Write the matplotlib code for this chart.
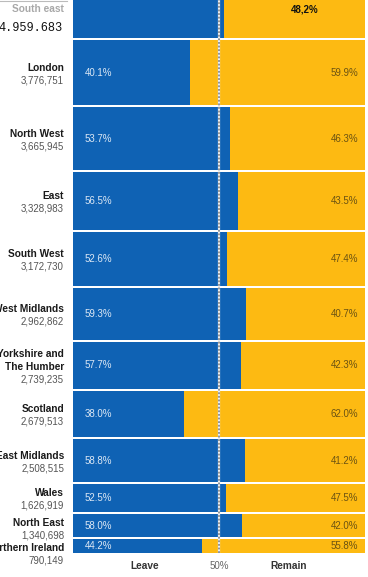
import numpy as np
import matplotlib
matplotlib.use("Agg")
import matplotlib.pyplot as plt

regions = ["South east", "London", "North West", "East", "South West", "West Midlands",
           "Yorkshire and\nThe Humber", "Scotland", "East Midlands", "Wales",
           "North East", "Northern Ireland"]
electorate = [4959683, 3776751, 3665945, 3328983, 3172730, 2962862,
              2739235, 2679513, 2508515, 1626919, 1340698, 790149]
leave = [51.8, 40.1, 53.7, 56.5, 52.6, 59.3, 57.7, 38.0, 58.8, 52.5, 58.0, 44.2]
remain = [48.2, 59.9, 46.3, 43.5, 47.4, 40.7, 42.3, 62.0, 41.2, 47.5, 42.0, 55.8]

BLUE = "#0f62b4"
YELLOW = "#fdba12"
plt.rcParams['font.family'] = ['Liberation Sans', 'DejaVu Sans']

W, H = 368, 577
fig = plt.figure(figsize=(W / 100, H / 100), dpi=100)
# axes: x from 73px to 365px, y from 0px to 553px
ax = fig.add_axes([73 / W, 24 / H, 292 / W, 553 / H])

s = 17.24            # pixels per million voters
gap = 2 / s
heights = np.array(electorate) / 1e6
tops = np.concatenate([[0], np.cumsum(heights + gap)[:-1]])
centers = tops + heights / 2

ax.barh(centers, leave, height=heights, color=BLUE, linewidth=0)
ax.barh(centers, remain, left=leave, height=heights, color=YELLOW, linewidth=0)
ax.axvline(50, color="#e8eef5", lw=1.6, zorder=4)
ax.axvline(50, color="#8c8c8c", lw=1.3, ls=(0, (1, 1)), zorder=5)

ax.set_xlim(0, 100)
ax.set_ylim(tops[-1] + heights[-1], heights[0] - 38 / s)
ax.axis("off")

xlab = -9 / 292 * 100   # 9 px left of the bars
for i in range(1, len(regions)):
    yc = centers[i]
    lines = regions[i].split("\n") + [f"{electorate[i]:,}"]
    n = len(lines)
    yblock = max(yc + 1.5 / s, tops[i] + 15 / s)
    for k, txt in enumerate(lines):
        y = yblock + (k - (n - 1) / 2) * 12.5 / s
        last = k == n - 1
        ax.text(xlab, y, txt, ha="right", va="center", clip_on=False,
                fontsize=7.0 if last else 7.3,
                fontweight="normal" if last else "bold",
                color="#555555" if last else "#1a1a1a")
    ax.annotate(f"{leave[i]:.1f}%", xy=(0, yc), xytext=(12, 0), textcoords="offset pixels",
                ha="left", va="center", fontsize=7, color="#dbe7f4")
    ax.annotate(f"{remain[i]:.1f}%", xy=(100, yc), xytext=(-7, 0), textcoords="offset pixels",
                ha="right", va="center", fontsize=7, color="#6b5312")

# partially visible South east row
fig.add_artist(plt.Line2D([0, 67 / W], [1 - 0.5 / H, 1 - 0.5 / H], color="#bbbbbb", lw=0.8))
fig.text(64 / W, 1 - 9 / H, regions[0], ha="right", va="center", fontsize=7.3,
         fontweight="bold", color="#a8a8a8")
fig.text(63 / W, 1 - 28 / H, f"{electorate[0]:,}".replace(",", "."), ha="right",
         va="center", fontsize=8.6, color="#111111",
         family=["Liberation Mono", "DejaVu Sans Mono"])
fig.text(305 / W, 1 - 10 / H, f"{remain[0]:.1f}%".replace(".", ","), ha="center",
         va="center", fontsize=7, fontweight="bold", color="#111111")

# bottom labels
fig.text(145 / W, 1 - 566 / H, "Leave", ha="center", va="center", fontsize=7.3,
         fontweight="bold", color="#333333")
fig.text(219 / W, 1 - 566 / H, "50%", ha="center", va="center", fontsize=7,
         color="#666666")
fig.text(289 / W, 1 - 566 / H, "Remain", ha="center", va="center", fontsize=7.3,
         fontweight="bold", color="#333333")

fig.savefig("out.png", dpi=100)
